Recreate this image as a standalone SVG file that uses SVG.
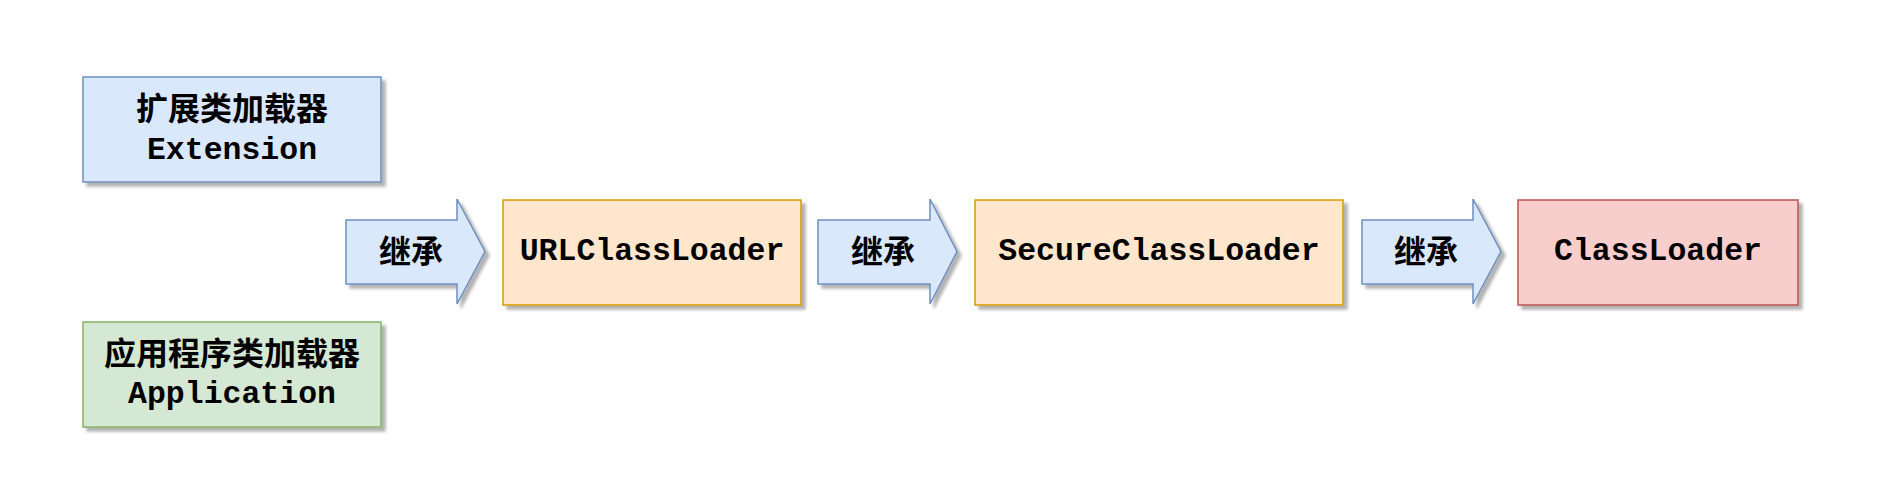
<svg xmlns="http://www.w3.org/2000/svg" width="1887" height="500" viewBox="0 0 1887 500">
  <defs>
    <filter id="sh" x="-10%" y="-10%" width="130%" height="140%">
      <feGaussianBlur in="SourceAlpha" stdDeviation="1.5"/>
      <feOffset dx="4" dy="4" result="b"/>
      <feComponentTransfer><feFuncA type="linear" slope="0.3"/></feComponentTransfer>
      <feMerge><feMergeNode/><feMergeNode in="SourceGraphic"/></feMerge>
    </filter>
  </defs>
  <style>
    .box { stroke-width: 1.5; filter: url(#sh); }
    .blue { fill: #dae8fc; stroke: #6c8ebf; }
    .green { fill: #d5e8d4; stroke: #82b366; }
    .orange { fill: #ffe6cc; stroke: #d79b00; }
    .red { fill: #f8cecc; stroke: #b85450; }
    .cn { font-family: "Noto Sans CJK SC", sans-serif; font-weight: bold; font-size: 32px; fill: #000; text-anchor: middle; }
    .mono { font-family: "Liberation Mono", "Courier New", monospace; font-weight: bold; font-size: 31.5px; fill: #000; text-anchor: middle; }
  </style>
  <rect width="1887" height="500" fill="#ffffff"/>

  <g id="extension">
    <rect class="box blue" x="83" y="77" width="298" height="105"/>
    <text class="cn" x="232" y="120">扩展类加载器</text>
    <text class="mono" x="232" y="159">Extension</text>
  </g>

  <g id="application">
    <rect class="box green" x="83" y="322" width="298" height="105"/>
    <text class="cn" x="232" y="365">应用程序类加载器</text>
    <text class="mono" x="232" y="403">Application</text>
  </g>

  <g id="connectors">
    <g id="arrow1">
      <path class="box blue" d="M346,220 L457,220 L457,199 L485,251.5 L457,304 L457,284 L346,284 Z"/>
      <text class="cn" x="411" y="263">继承</text>
    </g>
    <g id="arrow2">
      <path class="box blue" d="M818,220 L930,220 L930,199 L957,251.5 L930,304 L930,284 L818,284 Z"/>
      <text class="cn" x="883" y="263">继承</text>
    </g>
    <g id="arrow3">
      <path class="box blue" d="M1362,220 L1473,220 L1473,199 L1501,251.5 L1473,304 L1473,284 L1362,284 Z"/>
      <text class="cn" x="1426" y="263">继承</text>
    </g>
  </g>

  <g id="urlclassloader">
    <rect class="box orange" x="503" y="200" width="298" height="105"/>
    <text class="mono" x="652" y="260">URLClassLoader</text>
  </g>

  <g id="secureclassloader">
    <rect class="box orange" x="975" y="200" width="368" height="105"/>
    <text class="mono" x="1159" y="260">SecureClassLoader</text>
  </g>

  <g id="classloader">
    <rect class="box red" x="1518" y="200" width="280" height="105"/>
    <text class="mono" x="1658" y="260">ClassLoader</text>
  </g>
</svg>
